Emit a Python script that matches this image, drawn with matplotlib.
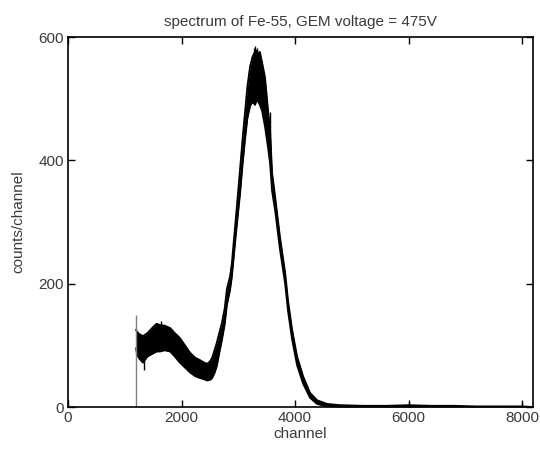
import matplotlib
matplotlib.use("Agg")
import matplotlib.pyplot as plt

plt.rcParams['font.family'] = ['Liberation Sans', 'DejaVu Sans']

# envelope of the noisy spectrum
channel = [1200, 1215, 1260, 1320, 1400, 1480, 1560, 1620, 1700, 1800, 1880,
           1970, 2060, 2150, 2240, 2325, 2400, 2450, 2500, 2540, 2580, 2620,
           2670, 2710, 2760, 2800, 2855, 2885, 2960, 3030, 3080, 3120, 3160,
           3207, 3250, 3295, 3330, 3350, 3380, 3420, 3470, 3525, 3560, 3595,
           3650, 3735, 3825, 3877, 3947, 4035, 4141, 4264, 4388, 4564, 4800,
           5200, 5600, 6000, 6400, 6800, 7200, 7600, 8000, 8192]
upper = [125, 122, 118, 115, 120, 128, 135, 133, 132, 128, 120,
         112, 100, 88, 80, 76, 72, 70, 74, 80, 92, 104,
         122, 136, 160, 192, 212, 232, 310, 385, 440, 480, 520,
         552, 568, 576, 578, 572, 576, 558, 535, 480, 450, 380,
         340, 275, 218, 172, 126, 82, 50, 23, 11, 5, 3,
         2, 2, 3, 2, 2, 1, 1, 1, 0]
lower = [95, 85, 78, 72, 82, 86, 90, 90, 92, 90, 82,
         72, 64, 56, 50, 47, 45, 43, 44, 47, 55, 66,
         90, 108, 134, 166, 190, 210, 282, 345, 398, 435, 468,
         488, 495, 490, 500, 495, 490, 480, 455, 420, 395, 350,
         318, 255, 200, 155, 110, 68, 38, 15, 5, 1, 0,
         0, 0, 0, 0, 0, 0, 0, 0, 0]

# single tall channels sticking out of the band
spike_ch = [1330, 1640, 3270, 3300, 3335, 3560, 6000, 8000]
spike_top = [60, 140, 582, 585, 582, 478, 8, 7]
spike_bot = [80, 120, 540, 540, 540, 400, 0, 0]

# threshold edge at the start of the spectrum
edge_ch = 1200
edge_top = 150

fig = plt.figure(figsize=(5.4, 4.49), dpi=100)
ax = fig.add_axes([0.126, 0.0935, 0.861, 0.824])

ax.fill_between(channel, lower, upper, color='black', lw=0)
ax.plot(channel, upper, color='black', lw=1.3)
ax.plot(channel, lower, color='black', lw=1.3)
ax.vlines(spike_ch, spike_bot, spike_top, color='black', lw=1)
ax.vlines([edge_ch], [0], [edge_top], color='#808080', lw=1)

ax.set_xlim(0, 8192)
ax.set_ylim(0, 600)
ax.set_xticks([0, 2000, 4000, 6000, 8000])
ax.set_yticks([0, 200, 400, 600])

ax.tick_params(direction='in', length=5, width=1, top=True, right=True,
               labelsize=11, labelcolor='#3a3a3a', pad=3)
for s in ax.spines.values():
    s.set_linewidth(1.2)

ax.set_title('spectrum of Fe-55, GEM voltage = 475V', fontsize=11,
             color='#3a3a3a', pad=8)
ax.set_xlabel('channel', fontsize=11, color='#3a3a3a', labelpad=1)
ax.set_ylabel('counts/channel', fontsize=11, color='#3a3a3a', labelpad=9)

fig.savefig('out.png', dpi=100)
